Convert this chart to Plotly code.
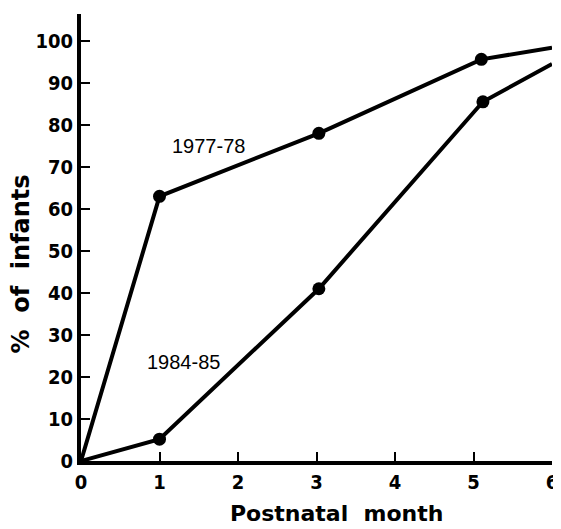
import plotly.graph_objects as go

months_7778 = [0, 1, 3.03, 5.1, 6]
pct_7778 = [0, 63, 78, 95.6, 98.4]
months_8485 = [0, 1, 3.03, 5.12, 6]
pct_8485 = [0, 5.2, 41, 85.5, 94.5]
x_ticks = [0, 1, 2, 3, 4, 5, 6]
y_ticks = [0, 10, 20, 30, 40, 50, 60, 70, 80, 90, 100]

TICKFONT = dict(family="Liberation Sans Narrow, DejaVu Sans Condensed, Liberation Sans", size=20, color="black", weight="bold")

fig = go.Figure()
for xs, ys in [(months_7778, pct_7778), (months_8485, pct_8485)]:
    fig.add_trace(go.Scatter(
        x=xs, y=ys, mode="lines+markers",
        line=dict(color="black", width=4),
        marker=dict(color="black", opacity=1, size=[0, 13, 13, 13, 0],
                    line=dict(width=0)),
        showlegend=False, cliponaxis=False,
    ))

fig.add_annotation(x=1.62, y=75, text="1977-78", showarrow=False,
                   font=dict(family="Liberation Sans", size=20, color="black"))
fig.add_annotation(x=1.3, y=23.5, text="1984-85", showarrow=False,
                   font=dict(family="Liberation Sans", size=20, color="black"))

# axis titles as annotations (placed like the original)
fig.add_annotation(xref="paper", yref="paper", x=0.543, y=-0.118,
                   xanchor="center", yanchor="middle", showarrow=False,
                   text="Postnatal  month",
                   font=dict(family="DejaVu Sans", size=22, color="black", weight="bold"))
fig.add_annotation(xref="paper", yref="paper", x=-0.128, y=0.441,
                   xanchor="center", yanchor="middle", showarrow=False,
                   textangle=-90, text="%  of  infants",
                   font=dict(family="DejaVu Sans", size=24, color="black", weight="bold"))

# page body has an 8px margin: figure is sized/offset to compensate
fig.update_layout(
    width=553, height=521,
    margin=dict(l=73, r=3, t=6, b=68),
    paper_bgcolor="white", plot_bgcolor="white",
    xaxis=dict(range=[0, 6], tickvals=x_ticks, ticks="inside", ticklen=9,
               tickwidth=2, tickcolor="black", showline=True, linewidth=4,
               linecolor="black", showgrid=False, zeroline=False,
               tickfont=TICKFONT, ticklabeloverflow="allow"),
    yaxis=dict(range=[0, 106.4], tickvals=y_ticks, ticks="inside", ticklen=9,
               tickwidth=2, tickcolor="black", showline=True, linewidth=4,
               linecolor="black", showgrid=False, zeroline=False,
               tickfont=TICKFONT),
)

fig.write_html("out.html")
